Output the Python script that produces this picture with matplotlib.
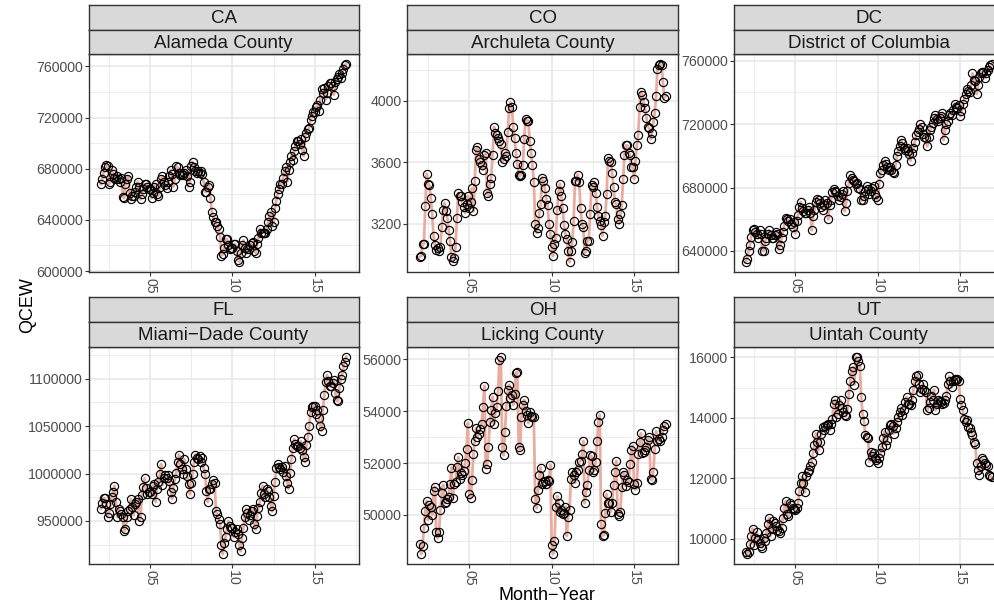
import numpy as np
import matplotlib
matplotlib.use("Agg")
import matplotlib.pyplot as plt
from matplotlib.ticker import MultipleLocator, FuncFormatter

plt.rcParams['font.family'] = ['Liberation Sans', 'DejaVu Sans']

# monthly series, Jan 2002 .. Dec 2016
months = 2002 + np.arange(180) / 12

states = ["CA", "CO", "DC", "FL", "OH", "UT"]
counties = ["Alameda County", "Archuleta County", "District of Columbia",
            "Miami\u2212Dade County", "Licking County", "Uintah County"]

# thousands
alameda = [
    668, 672, 677, 681, 683, 682, 668, 670, 679, 676, 673, 672,
    674, 672, 670, 673, 658, 657, 668, 672, 674, 661, 656, 659,
    659, 662, 666, 670, 666, 656, 660, 664, 668, 668, 666, 664,
    664, 657, 661, 666, 668, 660, 659, 666, 672, 674, 670, 667,
    665, 670, 674, 679, 676, 666, 672, 682, 681, 677, 675, 676,
    675, 677, 679, 674, 666, 670, 682, 685, 681, 678, 677, 678,
    677, 678, 676, 670, 662, 662, 666, 667, 657, 646, 642, 638,
    638, 635, 633, 627, 612, 613, 618, 625, 625, 620, 617, 618,
    618, 621, 621, 616, 609, 607, 614, 620, 624, 618, 614, 617,
    617, 620, 622, 623, 616, 614, 621, 626, 633, 630, 630, 630,
    630, 633, 638, 643, 646, 635, 638, 649, 655, 660, 664, 668,
    668, 673, 678, 681, 670, 679, 685, 690, 687, 694, 698, 702,
    702, 699, 703, 695, 690, 705, 708, 711, 712, 718, 721, 724,
    724, 728, 730, 725, 734, 742, 739, 743, 734, 739, 745, 747,
    747, 745, 738, 748, 750, 752, 754, 751, 755, 758, 761, 762,
]

archuleta = [
    2983, 2990, 3065, 3070, 3315, 3525, 3460, 3450, 3370, 3260, 3120, 3060,
    3030, 3040, 3020, 3050, 3180, 3290, 3335, 3280, 3240, 3160, 3090, 2980,
    2960, 2975, 3050, 3240, 3400, 3380, 3380, 3340, 3310, 3270, 3330, 3380,
    3300, 3340, 3430, 3280, 3480, 3680, 3700, 3620, 3600, 3580, 3550, 3650,
    3660, 3400, 3380, 3460, 3500, 3650, 3830, 3790, 3780, 3760, 3740, 3720,
    3600, 3620, 3660, 3640, 3800, 3950, 3990, 3960, 3830, 3760, 3660, 3590,
    3520, 3510, 3520, 3580, 3750, 3880, 3870, 3870, 3740, 3660, 3580, 3470,
    3200, 3140, 3170, 3270, 3330, 3500, 3480, 3430, 3360, 3320, 3200, 3130,
    3050, 2990, 3070, 3110, 3290, 3410, 3460, 3380, 3300, 3190, 3130, 3100,
    3020, 2950, 3020, 3080, 3220, 3480, 3480, 3520, 3470, 3300, 3200, 3180,
    3010, 3020, 3090, 3090, 3260, 3450, 3440, 3470, 3400, 3310, 3250, 3220,
    3190, 3120, 3210, 3250, 3390, 3630, 3610, 3600, 3530, 3440, 3340, 3330,
    3230, 3200, 3260, 3320, 3490, 3650, 3710, 3710, 3660, 3650, 3570, 3570,
    3490, 3610, 3710, 3780, 3960, 4060, 4040, 3990, 3950, 3890, 3830, 3820,
    3750, 3790, 3860, 3920, 4030, 4210, 4230, 4240, 4230, 4120, 4020, 4030,
]

# thousands
columbia = [
    633, 635, 640, 644, 649, 653, 654, 652, 651, 648, 653, 651,
    640, 640, 646, 648, 651, 653, 650, 648, 648, 650, 652, 651,
    641, 644, 648, 652, 656, 661, 660, 659, 660, 657, 655, 658,
    651, 659, 663, 668, 671, 667, 665, 664, 664, 666, 668, 664,
    653, 662, 666, 671, 673, 672, 670, 668, 666, 669, 672, 670,
    660, 669, 672, 677, 679, 678, 677, 675, 672, 674, 676, 678,
    665, 670, 678, 683, 688, 686, 685, 684, 682, 683, 680, 679,
    672, 672, 675, 678, 681, 679, 676, 678, 680, 681, 676, 674,
    672, 682, 689, 691, 694, 697, 695, 693, 691, 693, 691, 690,
    689, 694, 700, 703, 706, 710, 708, 705, 704, 705, 703, 701,
    697, 702, 705, 709, 713, 715, 717, 720, 718, 714, 712, 711,
    706, 712, 716, 718, 721, 724, 726, 723, 722, 724, 725, 727,
    710, 716, 720, 722, 726, 727, 726, 729, 733, 731, 730, 732,
    725, 728, 733, 736, 739, 742, 741, 740, 745, 752, 748, 747,
    739, 745, 750, 752, 753, 753, 749, 752, 754, 756, 757, 758,
]

# thousands
miami = [
    963, 969, 974, 974, 968, 954, 958, 968, 975, 981, 987, 970,
    954, 963, 960, 957, 954, 939, 941, 954, 961, 963, 973, 965,
    956, 968, 970, 973, 950, 954, 977, 986, 995, 985, 978, 980,
    980, 978, 987, 989, 970, 984, 991, 999, 1010, 988, 995, 998,
    995, 998, 992, 981, 973, 985, 994, 1001, 1012, 1020, 1010, 1005,
    1000, 1015, 1005, 997, 989, 978, 990, 1000, 1012, 1020, 1016, 1015,
    1018, 1012, 1016, 1006, 1000, 982, 970, 984, 984, 989, 993, 990,
    960, 957, 952, 947, 925, 915, 927, 933, 942, 950, 945, 943,
    943, 933, 938, 942, 936, 925, 918, 932, 943, 954, 963, 958,
    951, 956, 960, 963, 947, 941, 955, 964, 970, 979, 987, 978,
    975, 984, 982, 975, 966, 960, 976, 991, 1006, 1010, 1007, 1005,
    1007, 1002, 1008, 997, 990, 984, 1001, 1015, 1027, 1036, 1031, 1029,
    1029, 1027, 1034, 1025, 1017, 1012, 1030, 1038, 1050, 1065, 1070, 1071,
    1071, 1063, 1067, 1059, 1050, 1045, 1067, 1083, 1097, 1104, 1098, 1092,
    1092, 1095, 1099, 1085, 1077, 1076, 1090, 1100, 1104, 1113, 1118, 1123,
]

# thousands
licking = [
    48.89, 48.49, 48.81, 49.49, 50.17, 50.54, 49.81, 50.38, 50.29, 50.00, 50.92, 51.09,
    49.34, 49.10, 49.36, 50.19, 50.86, 51.17, 50.45, 50.51, 50.60, 50.70, 51.21, 51.83,
    50.64, 51.21, 51.28, 51.85, 52.23, 51.40, 51.62, 51.56, 51.70, 52.00, 52.55, 53.55,
    50.80, 50.64, 51.34, 52.34, 52.87, 53.35, 53.00, 53.13, 53.32, 53.50, 54.18, 54.98,
    51.79, 51.95, 52.64, 53.58, 54.05, 54.56, 53.51, 53.92, 54.15, 54.79, 55.96, 56.10,
    52.62, 52.30, 53.19, 54.21, 54.81, 55.02, 54.51, 54.64, 54.25, 54.66, 55.49, 55.52,
    52.64, 52.52, 53.79, 54.24, 54.44, 54.02, 53.87, 53.54, 53.96, 53.83, 53.79, 53.77,
    50.60, 50.26, 50.96, 51.53, 51.83, 51.19, 51.28, 51.32, 51.21, 51.34, 51.30, 51.94,
    48.85, 48.49, 48.98, 50.32, 50.73, 50.45, 50.13, 50.19, 50.04, 50.09, 50.32, 49.20,
    49.94, 50.19, 51.40, 51.66, 51.53, 51.24, 51.66, 51.72, 52.04, 52.10, 52.36, 52.85,
    50.45, 50.89, 51.15, 51.72, 52.30, 52.26, 51.66, 51.72, 52.04, 52.85, 53.58, 53.87,
    49.66, 49.20, 49.23, 50.09, 50.80, 50.45, 50.47, 50.13, 50.47, 51.15, 51.66, 52.08,
    50.04, 49.96, 50.13, 51.09, 51.66, 51.56, 51.11, 51.34, 51.28, 51.95, 52.52, 52.68,
    51.21, 50.98, 51.24, 52.36, 52.81, 53.15, 52.39, 52.43, 52.52, 52.62, 52.90, 53.00,
    51.40, 51.34, 51.66, 52.55, 53.23, 52.85, 52.94, 52.87, 53.00, 53.26, 53.45, 53.51,
]

uintah = [
    9540, 9485, 9540, 9815, 10090, 10330, 9780, 10030, 10220, 10000, 9870, 9760,
    9700, 10030, 9920, 10200, 10470, 10690, 10090, 10310, 10580, 10530, 10420, 10300,
    10250, 10200, 10360, 10690, 11020, 11240, 10800, 10740, 11180, 11100, 11020, 10980,
    10940, 11020, 11180, 11570, 11840, 12060, 11840, 11530, 12060, 12190, 12280, 12400,
    12550, 12850, 13100, 13480, 13210, 12930, 13210, 13480, 13700, 13590, 13720, 13760,
    13810, 13590, 13810, 13970, 14470, 14600, 14030, 14140, 14410, 14580, 14340, 14200,
    14080, 14050, 14300, 14800, 15230, 15540, 15670, 15100, 16020, 16000, 15890, 15730,
    14690, 14120, 13900, 13430, 13370, 13320, 12550, 12880, 12720, 12830, 12660, 12600,
    12500, 12660, 12830, 13040, 13320, 13540, 13100, 13260, 13590, 13760, 13810, 13720,
    13480, 13650, 13870, 14030, 14190, 14340, 14080, 14250, 14520, 14690, 14470, 14450,
    14410, 14580, 14930, 15230, 15400, 15430, 15120, 14850, 14960, 15120, 14910, 14850,
    14250, 14340, 14520, 14710, 14600, 14930, 14250, 14450, 14580, 14560, 14520, 14470,
    14490, 14580, 14710, 15120, 15370, 15210, 15010, 15210, 15290, 15260, 15290, 15230,
    14630, 14410, 14250, 13970, 13870, 13940, 13700, 13650, 13540, 13430, 13210, 13150,
    12520, 12280, 12110, 12390, 12660, 12610, 12500, 12440, 12390, 12110, 12060, 12040,
]

series = [alameda, archuleta, columbia, miami, licking, uintah]
units = [1000, 1, 1000, 1000, 1000, 1]
y_steps = [40000, 400, 40000, 50000, 2000, 2000]

W, H = 995, 610
cols = [(88.5, 358.5), (407.5, 678), (733.5, 1004)]
rows = [(5, 30, 54, 272), (297, 322, 347, 564)]


def box(x0, x1, y0, y1):
    return [x0 / W, 1 - y1 / H, (x1 - x0) / W, (y1 - y0) / H]


def strip(fig, rect, label):
    s = fig.add_axes(rect)
    s.set_facecolor('#D9D9D9')
    s.set_xticks([])
    s.set_yticks([])
    for sp in s.spines.values():
        sp.set_color('#333333')
        sp.set_linewidth(1.0)
    s.text(0.5, 0.45, label, ha='center', va='center', fontsize=13.5,
           color='#1A1A1A', transform=s.transAxes)


fig = plt.figure(figsize=(W / 100, H / 100), dpi=100)

for i in range(6):
    x0, x1 = cols[i % 3]
    top, mid, ptop, pbot = rows[i // 3]
    ax = fig.add_axes(box(x0, x1, ptop, pbot))
    vals = np.array(series[i]) * units[i]
    ax.plot(months, vals, color='#E9AC9F', lw=2.0, zorder=2)
    ax.plot(months, vals, 'o', mfc='none', mec='black', ms=5.9, mew=0.85, zorder=3)
    ax.margins(x=0.05, y=0.05)

    ax.xaxis.set_major_locator(MultipleLocator(5))
    ax.xaxis.set_minor_locator(MultipleLocator(2.5))
    ax.xaxis.set_major_formatter(FuncFormatter(lambda v, p: '%02d' % (int(round(v)) % 100)))
    ax.yaxis.set_major_locator(MultipleLocator(y_steps[i]))
    ax.yaxis.set_minor_locator(MultipleLocator(y_steps[i] / 2))
    ax.yaxis.set_major_formatter(FuncFormatter(lambda v, p: '%d' % round(v)))

    ax.grid(True, which='major', color='#EBEBEB', lw=1.3)
    ax.grid(True, which='minor', color='#EBEBEB', lw=0.65)
    ax.set_axisbelow(True)
    for sp in ax.spines.values():
        sp.set_color('#333333')
        sp.set_linewidth(1.0)
    ax.tick_params(which='major', length=2.6, width=0.8, color='#333333',
                   labelcolor='#4D4D4D', labelsize=10.2, pad=1.5)
    ax.tick_params(which='minor', length=0)
    ax.tick_params(axis='x', labelrotation=270, pad=2)

    strip(fig, box(x0, x1, top, mid), states[i])
    strip(fig, box(x0, x1, mid, ptop), counties[i])

fig.text(28 / W, 1 - 305 / H, 'QCEW', rotation=90, ha='center', va='center',
         fontsize=13, color='black')
fig.text(546.5 / W, 1 - 596 / H, 'Month\u2212Year', ha='center', va='center',
         fontsize=13, color='black')

fig.savefig('out.png', dpi=100)
